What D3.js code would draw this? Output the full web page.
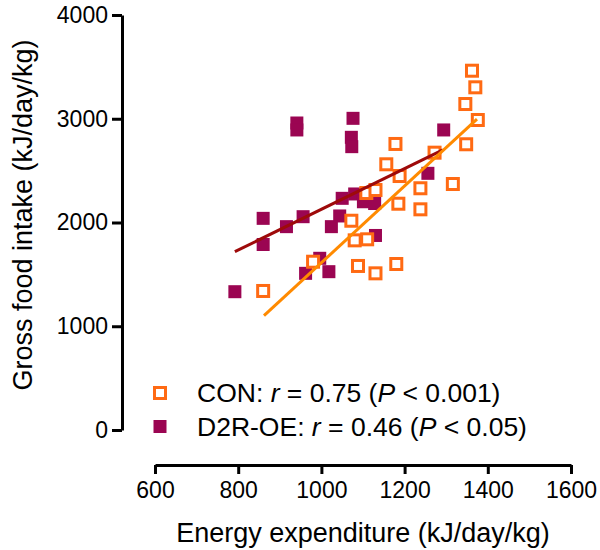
<!DOCTYPE html>
<html>
<head>
<meta charset="utf-8">
<script src="https://cdn.jsdelivr.net/npm/d3@7"></script>
<style>
    body { margin: 0; background: #fff; }
    text { font-family: "Liberation Sans", Arial, sans-serif; fill: #000; }
</style>
</head>
<body>
<div id="container"></div>
<script>
var svgWidth = 600;
var svgHeight = 550;

// CON group (open squares)
var conExpenditure = [860, 980, 1072, 1080, 1110, 1088, 1130, 1180, 1108, 1130, 1185, 1238,
    1238, 1316, 1362, 1370, 1346, 1376, 1348, 1178, 1156, 1188, 1272];
var conIntake = [1340, 1622, 2017, 1828, 1838, 1581, 1510, 1600, 2284, 2313, 2181, 2330,
    2127, 2371, 3463, 3303, 3142, 2988, 2754, 2757, 2561, 2448, 2673];

// D2R-OE group (filled squares)
var d2rExpenditure = [941, 941, 1076, 1072, 1073, 1294, 1256, 860, 916, 956, 1050, 1080,
    1101, 1128, 1044, 1024, 1130, 860, 996, 962, 1018, 792];
var d2rIntake = [2959, 2892, 3004, 2821, 2731, 2892, 2474, 2040, 1960, 2056, 2233, 2275,
    2200, 2183, 2063, 1960, 1875, 1788, 1655, 1510, 1526, 1333];

// fitted lines, endpoints
var conFitX = [862, 1374];
var conFitY = [1102, 2996];
var d2rFitX = [792, 1292];
var d2rFitY = [1719, 2700];

var xTicks = [600, 800, 1000, 1200, 1400, 1600];
var yTicks = [0, 1000, 2000, 3000, 4000];

var CON_COLOR = '#ff6a13', D2R_COLOR = '#9b0552';
var CON_LINE = '#ff8a00', D2R_LINE = '#9e0a0a';

var svg = d3.select('#container').append('svg')
    .attr('width', svgWidth)
    .attr('height', svgHeight)
;

var x = d3.scaleLinear().domain([600, 1600]).range([155, 571]);
var y = d3.scaleLinear().domain([0, 4000]).range([430, 15]);

var xAxis = svg.append('g')
    .attr('transform', 'translate(0,465)')
    .call(d3.axisBottom(x).tickValues(xTicks).tickFormat(d3.format('d'))
        .tickSize(9).tickSizeOuter(0).tickPadding(8));

var yAxis = svg.append('g')
    .attr('transform', 'translate(122,0)')
    .call(d3.axisLeft(y).tickValues(yTicks).tickFormat(d3.format('d'))
        .tickSize(10).tickSizeOuter(0).tickPadding(4));

[xAxis, yAxis].forEach(function (g) {
    g.selectAll('path, line').attr('stroke', '#000').attr('stroke-width', 3);
    g.selectAll('text').style('font-size', '23px').attr('fill', '#000');
});

svg.append('text')
    .attr('x', 363)
    .attr('y', 542)
    .attr('text-anchor', 'middle')
    .style('font-size', '27px')
    .text('Energy expenditure (kJ/day/kg)');

svg.append('text')
    .attr('transform', 'translate(32,215) rotate(-90)')
    .attr('text-anchor', 'middle')
    .style('font-size', '27px')
    .text('Gross food intake (kJ/day/kg)');

var d2rData = d2rExpenditure.map(function (v, i) { return {x: v, y: d2rIntake[i]}; });
var conData = conExpenditure.map(function (v, i) { return {x: v, y: conIntake[i]}; });

svg.append('g').selectAll('rect').data(d2rData)
    .enter().append('rect')
    .attr('x', function (d) { return x(d.x) - 6.5; })
    .attr('y', function (d) { return y(d.y) - 6.5; })
    .attr('width', 13)
    .attr('height', 13)
    .style('fill', D2R_COLOR)
;

svg.append('g').selectAll('rect').data(conData)
    .enter().append('rect')
    .attr('x', function (d) { return x(d.x) - 5.5; })
    .attr('y', function (d) { return y(d.y) - 5.5; })
    .attr('width', 11)
    .attr('height', 11)
    .style('fill', '#fff')
    .style('stroke', CON_COLOR)
    .style('stroke-width', 3)
;

var line = d3.line()
    .x(function (d) { return x(d[0]); })
    .y(function (d) { return y(d[1]); });

svg.append('path')
    .attr('d', line(d2rFitX.map(function (v, i) { return [v, d2rFitY[i]]; })))
    .style('stroke', D2R_LINE)
    .style('stroke-width', 3)
    .style('fill', 'none');

svg.append('path')
    .attr('d', line(conFitX.map(function (v, i) { return [v, conFitY[i]]; })))
    .style('stroke', CON_LINE)
    .style('stroke-width', 3)
    .style('fill', 'none');

// legend
var legend = [
    {label: 'CON', r: '0.75', p: '0.001', open: true},
    {label: 'D2R-OE', r: '0.46', p: '0.05', open: false}
];

legend.forEach(function (l, i) {
    var cy = 393 + i * 33.5;
    if (l.open) {
        svg.append('rect')
            .attr('x', 160 - 5.5).attr('y', cy - 5.5)
            .attr('width', 11).attr('height', 11)
            .style('fill', '#fff').style('stroke', CON_COLOR).style('stroke-width', 3);
    } else {
        svg.append('rect')
            .attr('x', 160 - 6.5).attr('y', cy - 6.5)
            .attr('width', 13).attr('height', 13)
            .style('fill', D2R_COLOR);
    }
    var t = svg.append('text')
        .attr('x', 197)
        .attr('y', cy + 9)
        .style('font-size', '26.5px');
    t.append('tspan').text(l.label + ': ');
    t.append('tspan').style('font-style', 'italic').text('r');
    t.append('tspan').text(' = ' + l.r + ' (');
    t.append('tspan').style('font-style', 'italic').text('P');
    t.append('tspan').text(' < ' + l.p + ')');
});
</script>
</body>
</html>
